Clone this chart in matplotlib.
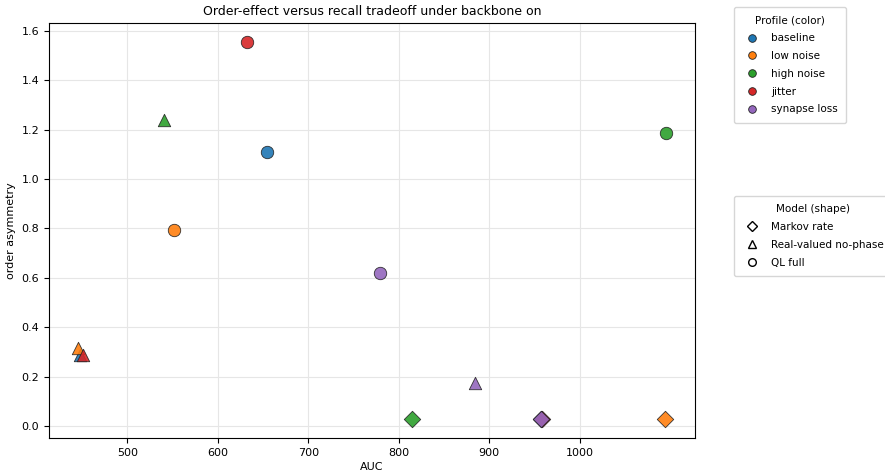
import matplotlib
matplotlib.use("Agg")
import matplotlib.pyplot as plt
from matplotlib.lines import Line2D

profiles = ["baseline", "low noise", "high noise", "jitter", "synapse loss"]
colors = ["#1f77b4", "#ff7f0e", "#2ca02c", "#d62728", "#9467bd"]
models = ["Markov rate", "Real-valued no-phase", "QL full"]
markers = ["D", "^", "o"]

# AUC and order asymmetry per model, in profile order
auc_markov = [957, 1094, 815, 958, 957]
asym_markov = [0.028, 0.028, 0.028, 0.028, 0.028]
auc_realvalued = [448, 446, 541, 451, 884]
asym_realvalued = [0.288, 0.316, 1.239, 0.288, 0.174]
auc_ql = [654, 552, 1095, 632, 779]
asym_ql = [1.110, 0.794, 1.187, 1.555, 0.620]

auc = [auc_markov, auc_realvalued, auc_ql]
asym = [asym_markov, asym_realvalued, asym_ql]

fig = plt.figure(figsize=(8.85, 4.72), dpi=100)
ax = fig.add_axes([0.0554, 0.072, 0.730, 0.879])

for pi, (prof, col) in enumerate(zip(profiles, colors)):
    for mi, (mod, mk) in enumerate(zip(models, markers)):
        s = 70 if mk == "D" else 80
        ax.scatter(auc[mi][pi], asym[mi][pi], marker=mk, s=s, color=col,
                   edgecolor="#222222", linewidth=0.6, alpha=0.9, zorder=3)

ax.grid(True, color="#e6e6e6", linewidth=0.8)
ax.set_axisbelow(True)
ax.set_xticks([500, 600, 700, 800, 900, 1000])
ax.set_yticks([0.0, 0.2, 0.4, 0.6, 0.8, 1.0, 1.2, 1.4, 1.6])
ax.tick_params(labelsize=8)
ax.set_xlabel("AUC", fontsize=8, labelpad=3)
ax.set_ylabel("order asymmetry", fontsize=8)
ax.set_title("Order-effect versus recall tradeoff under backbone on", fontsize=9, pad=6)

h1 = [Line2D([], [], marker="o", linestyle="none", markerfacecolor=c,
             markeredgecolor="#222222", markeredgewidth=0.6, markersize=5.5) for c in colors]
leg1 = fig.legend(h1, profiles, title="Profile (color)", loc="upper left",
                  bbox_to_anchor=(0.829, 0.985), borderaxespad=0, fontsize=7.5,
                  title_fontsize=7.5, frameon=True, borderpad=0.8, labelspacing=0.75,
                  handletextpad=0.8)
leg1.get_frame().set_edgecolor("#cccccc")

h2 = [Line2D([], [], marker=m, linestyle="none", markerfacecolor="white",
             markeredgecolor="black", markeredgewidth=1.0, markersize=5.5) for m in markers]
leg2 = fig.legend(h2, models, title="Model (shape)", loc="upper left",
                  bbox_to_anchor=(0.829, 0.585), borderaxespad=0, fontsize=7.5,
                  title_fontsize=7.5, frameon=True, borderpad=0.8, labelspacing=0.75,
                  handletextpad=0.8)
leg2.get_frame().set_edgecolor("#cccccc")

fig.savefig("out.png", dpi=100)
